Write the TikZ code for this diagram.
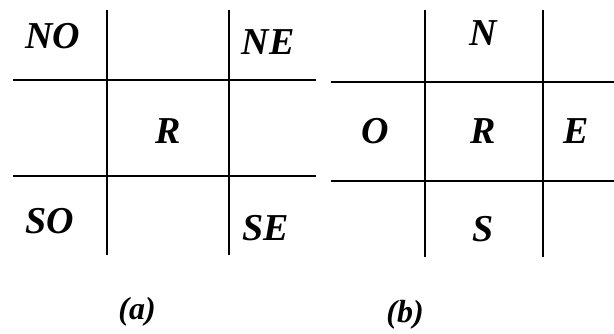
\documentclass[tikz,border=0pt]{standalone}
\usepackage{fontspec}
\setmainfont{Liberation Serif}
\tikzset{
  lbl/.style={font=\fontsize{38}{40}\selectfont\bfseries\itshape},
  caption lbl/.style={font=\fontsize{32}{34}\selectfont\bfseries\itshape},
  grid line/.style={line width=1.6pt}
}
\begin{document}
\begin{tikzpicture}[x=1pt, y=-1pt]
    \useasboundingbox (0,0) rectangle (614,333);
    % (a)
    \draw[grid line] (107,10) -- (107,255);
    \draw[grid line] (229,10) -- (229,255);
    \draw[grid line] (13,80) -- (316,80);
    \draw[grid line] (13,176) -- (316,176);
    \node[lbl] (no) at (53,36) {NO};
    \node[lbl] (ne) at (268,42) {NE};
    \node[lbl] (ra) at (168,131) {R};
    \node[lbl] (so) at (50,221) {SO};
    \node[lbl] (se) at (266,228) {SE};
    \node[caption lbl] (capa) at (137,312) {(a)};
    % (b)
    \draw[grid line] (425,10) -- (425,257);
    \draw[grid line] (543,10) -- (543,257);
    \draw[grid line] (331,82) -- (614,82);
    \draw[grid line] (331,181) -- (614,181);
    \node[lbl] (n) at (483,33) {N};
    \node[lbl] (o) at (375,131) {O};
    \node[lbl] (rb) at (483,131) {R};
    \node[lbl] (e) at (576,131) {E};
    \node[lbl] (s) at (483,229) {S};
    \node[caption lbl] (capb) at (405,315) {(b)};
\end{tikzpicture}
\end{document}
